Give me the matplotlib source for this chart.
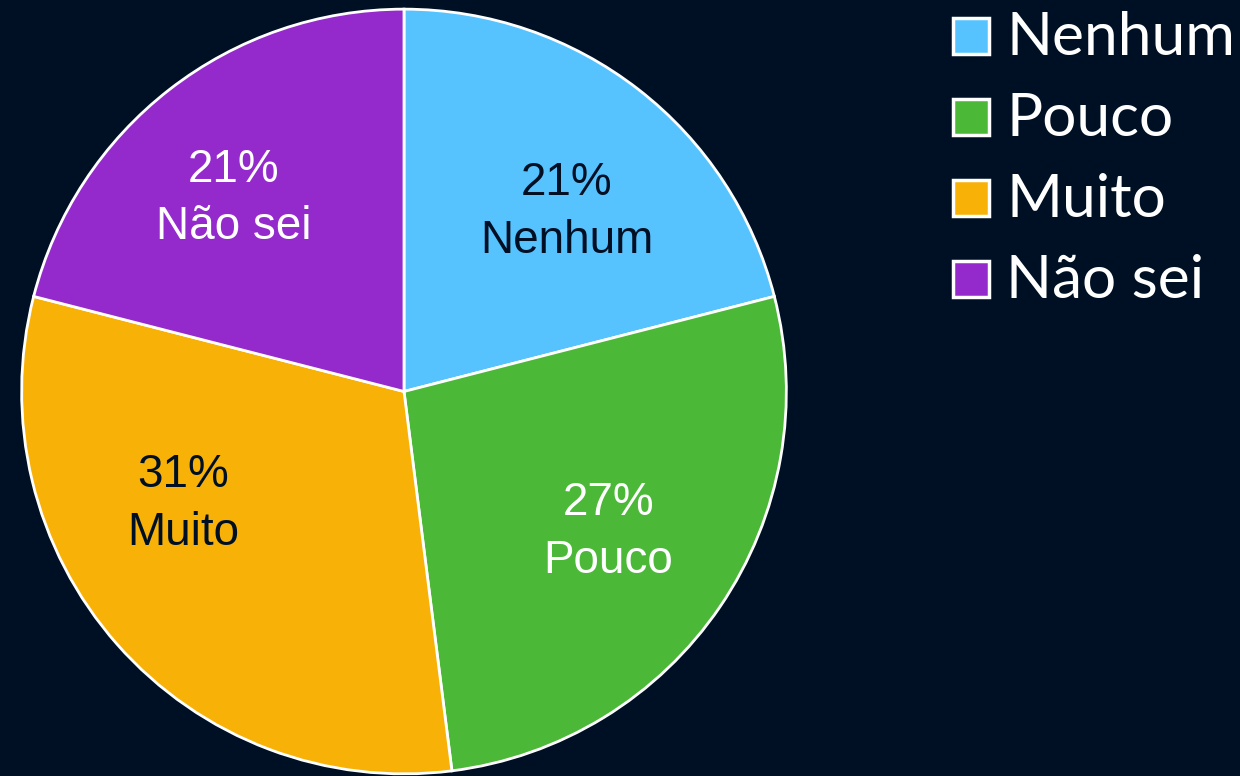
import matplotlib
matplotlib.use("Agg")
import matplotlib.pyplot as plt
from matplotlib.patches import Rectangle

categories = ["Nenhum", "Pouco", "Muito", "Não sei"]
values = [21, 27, 31, 21]
colors = ["#56C3FF", "#4CB838", "#F8B107", "#952ACC"]
label_colors = ["#001024", "white", "#001024", "white"]
# label positions (fraction of radius) as placed in the reference
label_pos = [(0.425, 0.47), (0.535, -0.367), (-0.578, -0.295), (-0.445, 0.505)]

BG = "#001024"
fig = plt.figure(figsize=(12.4, 7.76), dpi=100, facecolor=BG)
ax = fig.add_axes([20/1240, 1/776, 768/1240, 767/776])
ax.set_facecolor(BG)
wedges, _ = ax.pie(values, colors=colors, startangle=90, counterclock=False,
                   radius=1.0, wedgeprops=dict(edgecolor="white", linewidth=2.0))
ax.set_xlim(-1.003, 1.003)
ax.set_ylim(-1.003, 1.003)
ax.set_aspect("equal")
ax.axis("off")

for cat, v, c, (x, y) in zip(categories, values, label_colors, label_pos):
    ax.text(x, y, f"{v}%\n{cat}", ha="center", va="center", color=c,
            fontsize=33, family="Liberation Sans", linespacing=1.4)

# legend
for i, (cat, col) in enumerate(zip(categories, colors)):
    top = 17 + i * 81
    fig.patches.append(Rectangle((953/1240, 1 - (top + 37)/776), 36/1240, 36/776,
                                 transform=fig.transFigure, facecolor=col,
                                 edgecolor="white", linewidth=2.5))
    fig.text(1006/1240, 1 - (top + 38)/776, cat, color="white", fontsize=43.5,
             family="Lato", ha="left", va="baseline")

fig.savefig("out.png", dpi=100, facecolor=BG)
